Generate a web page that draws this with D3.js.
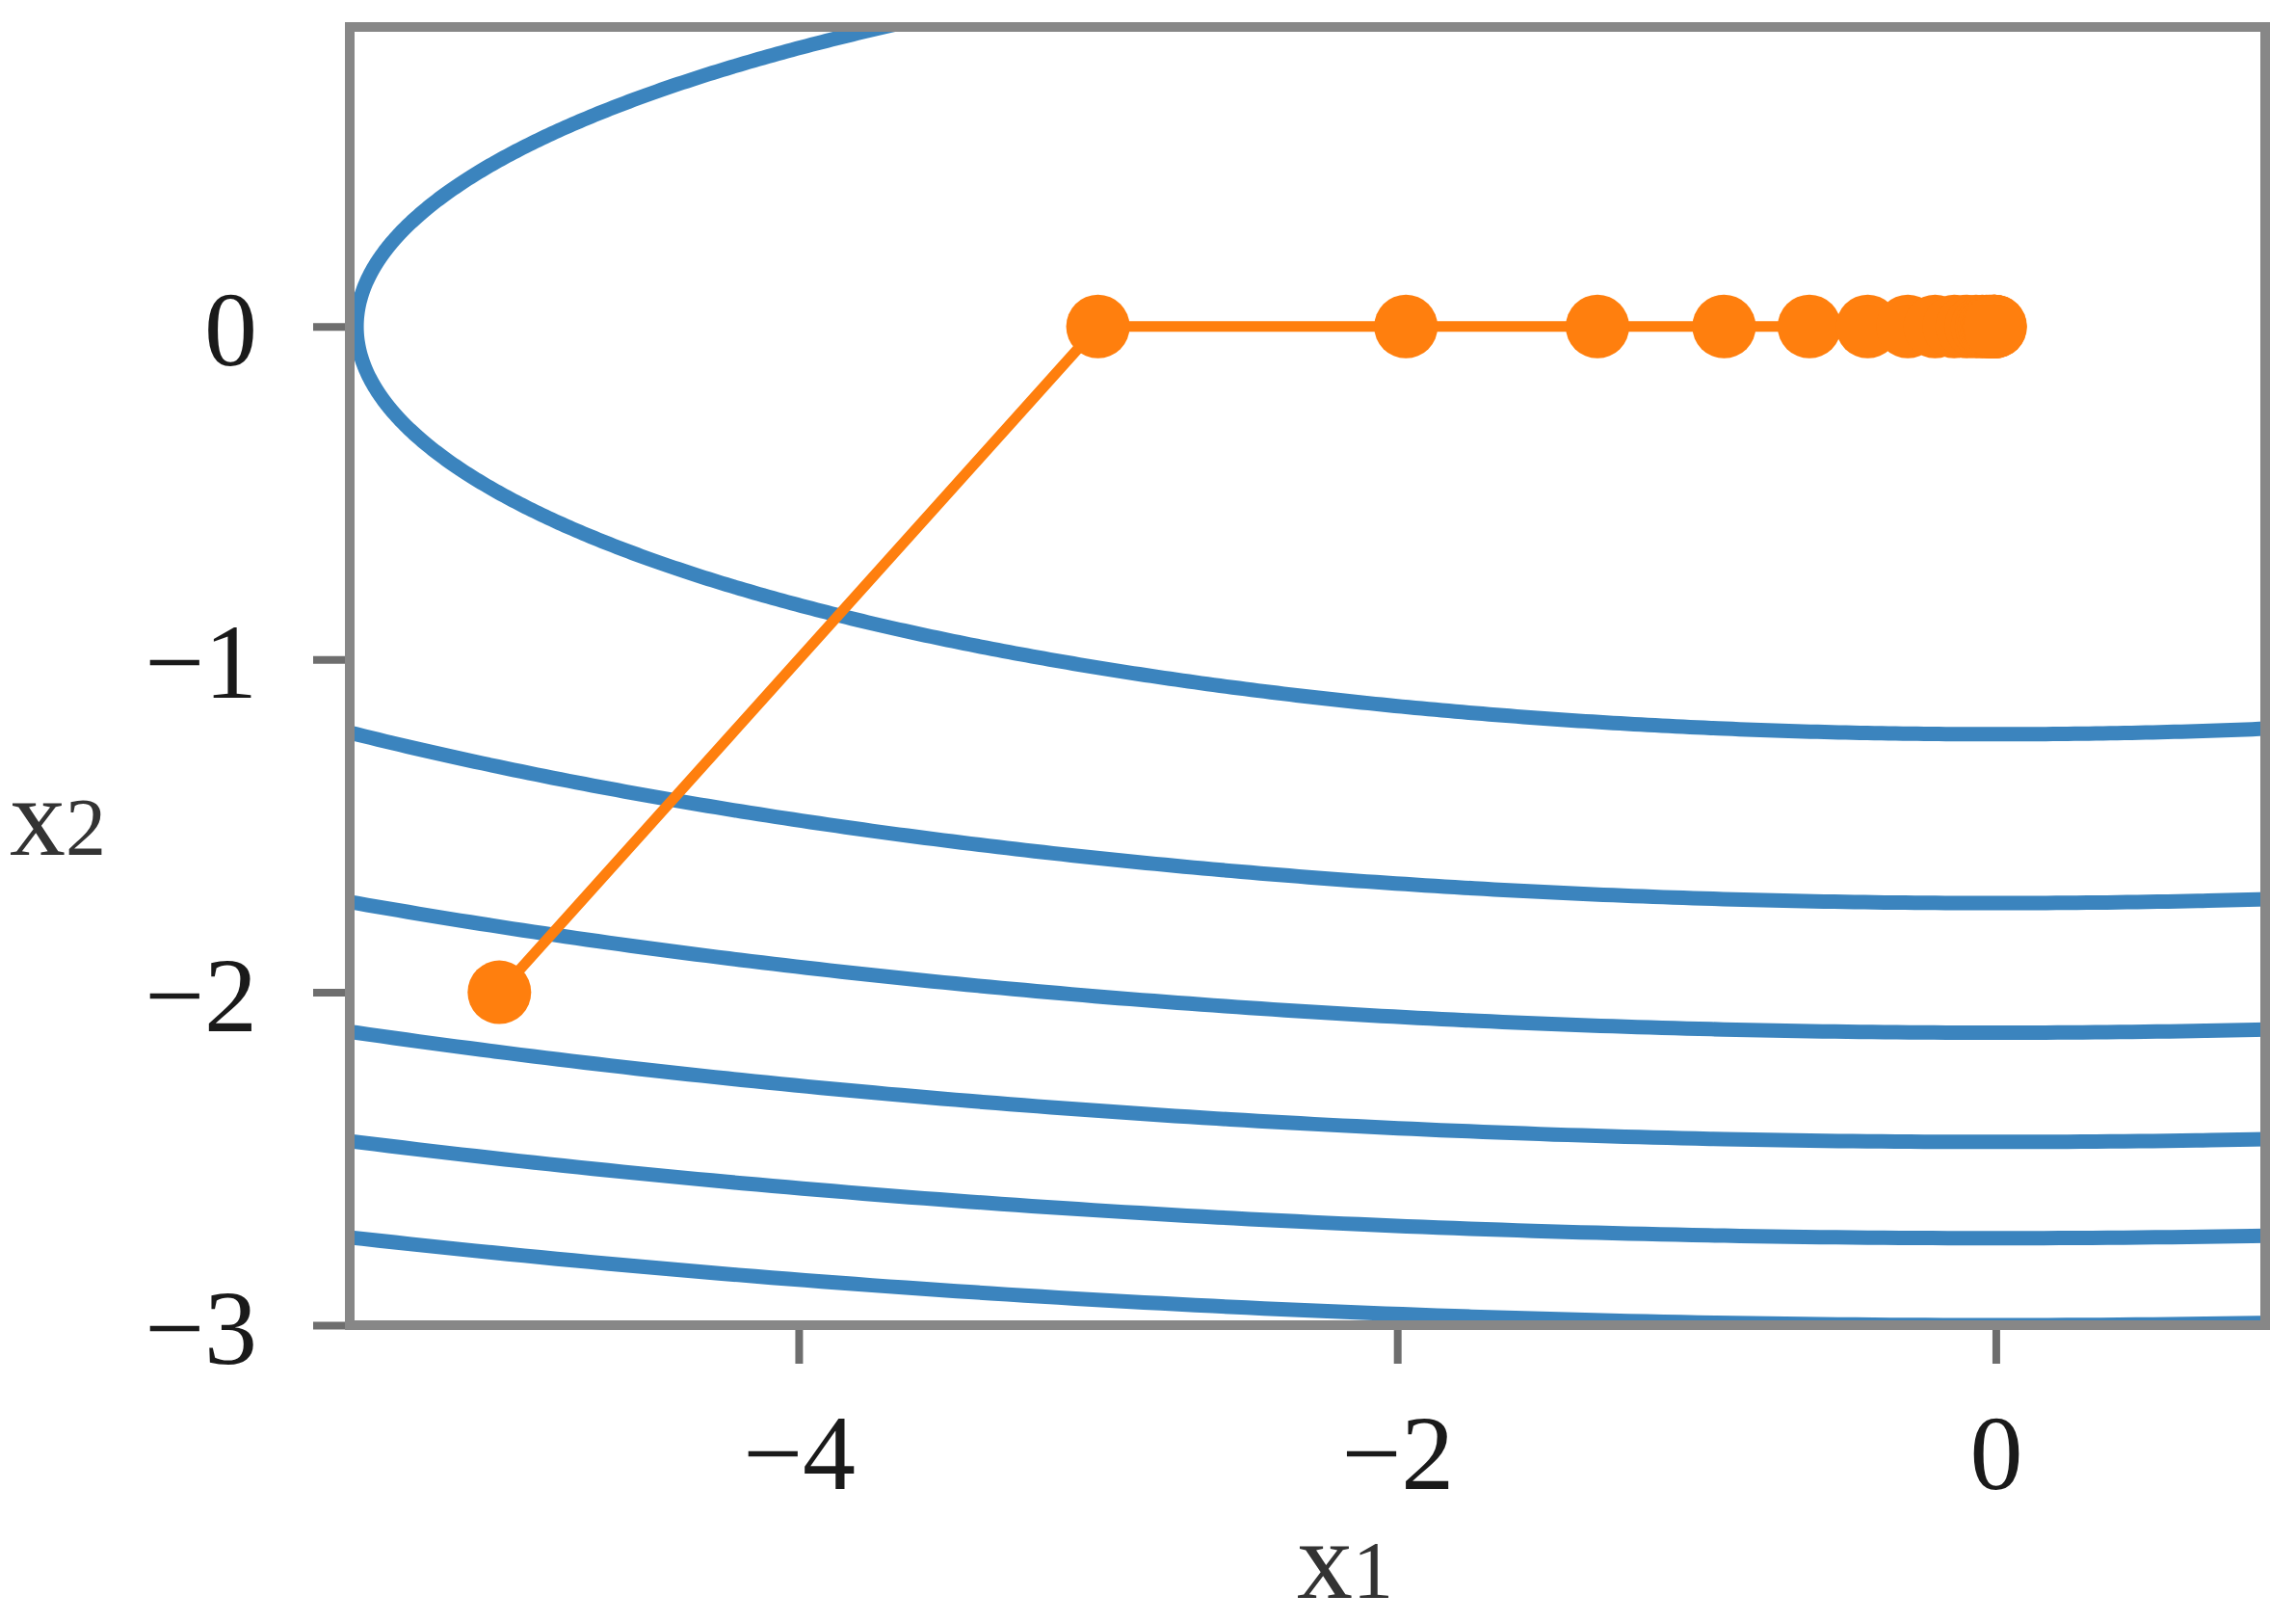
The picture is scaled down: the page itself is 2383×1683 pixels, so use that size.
<!DOCTYPE html>
<html>
<head>
<meta charset="utf-8">
<script src="https://cdn.jsdelivr.net/npm/d3@7/dist/d3.min.js"></script>
<style>
  html, body { margin: 0; padding: 0; background: #fff; }
  svg { display: block; }
</style>
</head>
<body>
<svg id="chart" width="2383" height="1683"></svg>
<script>
// ---- data ----
const xTicks = [-4, -2, 0];
const yTicks = [-3, -2, -1, 0];
const xDomain = [-5.5, 0.9];
const yDomain = [-3.0, 0.9];
// contour levels of f(x1, x2) = 0.1*x1^2 + 2*x2^2
const contourLevels = [3, 6, 9, 12, 15, 18];
const coefX1 = 0.1;
const coefX2 = 2;
// optimisation trajectory (x1, x2)
const traceX1 = [-5, -3, -1.971, -1.331, -0.908, -0.623, -0.428, -0.294, -0.203, -0.139,
                 -0.096, -0.066, -0.045, -0.031, -0.022, -0.015, -0.010, -0.007, -0.005, -0.003, -0.002];
const traceX2 = [-2, 0, 0, 0, 0, 0, 0, 0, 0, 0, 0, 0, 0, 0, 0, 0, 0, 0, 0, 0, 0];
const xLabel = "x";
const xLabelSub = "1";
const yLabel = "x";
const yLabelSub = "2";

// ---- layout ----
const plot = { left: 363, right: 2351, top: 28, bottom: 1375 };
const svg = d3.select("#chart");
const x = d3.scaleLinear().domain(xDomain).range([plot.left, plot.right]);
const y = d3.scaleLinear().domain(yDomain).range([plot.bottom, plot.top]);
const fontFam = "'Liberation Serif', 'DejaVu Serif', serif";
const fmt = d => (d < 0 ? "\u2212" + Math.abs(d) : String(d));

svg.append("defs").append("clipPath").attr("id", "clip")
  .append("rect")
  .attr("x", plot.left).attr("y", plot.top)
  .attr("width", plot.right - plot.left).attr("height", plot.bottom - plot.top);

// contour lines
const line = d3.line().x(d => x(d[0])).y(d => y(d[1])).curve(d3.curveLinear);
const gC = svg.append("g").attr("clip-path", "url(#clip)");
contourLevels.forEach(L => {
  const a = Math.sqrt(L / coefX1), b = Math.sqrt(L / coefX2);
  const pts = d3.range(0, 1441).map(i => {
    const t = i / 1440 * 2 * Math.PI;
    return [a * Math.cos(t), b * Math.sin(t)];
  });
  gC.append("path").datum(pts)
    .attr("d", line)
    .attr("fill", "none")
    .attr("stroke", "#3b84be")
    .attr("stroke-width", 15);
});

// trajectory
const trace = traceX1.map((v, i) => [v, traceX2[i]]);
svg.append("path").datum(trace)
  .attr("d", line)
  .attr("fill", "none")
  .attr("stroke", "#ff7f0e")
  .attr("stroke-width", 11);
svg.append("g").selectAll("circle").data(trace).join("circle")
  .attr("cx", d => x(d[0])).attr("cy", d => y(d[1]))
  .attr("r", 33)
  .attr("fill", "#ff7f0e");

// axes
const xAxis = svg.append("g")
  .attr("transform", `translate(0,${plot.bottom})`)
  .call(d3.axisBottom(x).tickValues(xTicks).tickFormat(fmt).tickSize(40).tickPadding(52));
const yAxis = svg.append("g")
  .attr("transform", `translate(${plot.left},0)`)
  .call(d3.axisLeft(y).tickValues(yTicks).tickFormat(fmt).tickSize(38).tickPadding(58));
[xAxis, yAxis].forEach(g => {
  g.select(".domain").remove();
  g.selectAll(".tick line").attr("stroke", "#6e6e6e").attr("stroke-width", 8);
  g.selectAll(".tick text")
    .attr("font-family", fontFam)
    .attr("font-size", 110)
    .attr("fill", "#1a1a1a");
});
yAxis.selectAll(".tick text").attr("dy", "0.36em");

// spines
svg.append("rect")
  .attr("x", plot.left).attr("y", plot.top)
  .attr("width", plot.right - plot.left).attr("height", plot.bottom - plot.top)
  .attr("fill", "none")
  .attr("stroke", "#878787")
  .attr("stroke-width", 10);

// axis labels
const xl = svg.append("text")
  .attr("x", 1396).attr("y", 1658)
  .attr("text-anchor", "middle")
  .attr("font-family", fontFam).attr("font-size", 116).attr("fill", "#333");
xl.append("tspan").text(xLabel);
xl.append("tspan").attr("font-size", 84).text(xLabelSub);

const yl = svg.append("text")
  .attr("x", 60).attr("y", 887)
  .attr("text-anchor", "middle")
  .attr("font-family", fontFam).attr("font-size", 116).attr("fill", "#333");
yl.append("tspan").text(yLabel);
yl.append("tspan").attr("font-size", 84).text(yLabelSub);
</script>
</body>
</html>
